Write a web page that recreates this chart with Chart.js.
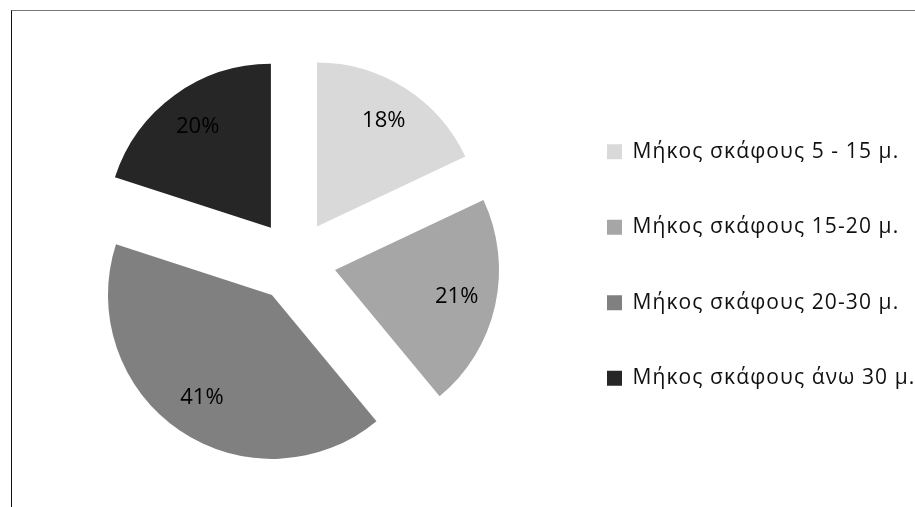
<!DOCTYPE html>
<html lang="el">
<head>
<meta charset="utf-8">
<title>Μήκος σκάφους</title>
<script src="https://cdn.jsdelivr.net/npm/chart.js@4.4.1/dist/chart.umd.min.js"></script>
<style>
  html, body { margin: 0; padding: 0; background: #fff; }
  .frame {
    position: absolute; left: 11px; top: 10px;
    width: 904px; height: 497px; box-sizing: border-box;
    border-left: 1px solid #111; border-top: 1px solid #777;
    overflow: hidden;
  }
  .frame .wrap { position: relative; width: 903px; height: 496px; }
</style>
</head>
<body>
<div class="frame"><div class="wrap"><canvas id="boatChart"></canvas></div></div>

<script>
// --- data ---
const categories = [
  'Μήκος σκάφους 5 - 15 μ.',
  'Μήκος σκάφους 15-20 μ.',
  'Μήκος σκάφους 20-30 μ.',
  'Μήκος σκάφους άνω 30 μ.'
];
const shares = [18, 21, 41, 20];
const sliceColors = ['#d9d9d9', '#a6a6a6', '#808080', '#262626'];

const FONT = "'Open Sans', 'Noto Sans', sans-serif";
const EXPLODE = 41;        // px each slice is pulled out along its bisector
const LEGEND_WIDTH = 362.5;

// --- exploded slices: draw each arc shifted out, keeping its radius ---
const explodePlugin = {
  id: 'explode',
  beforeDatasetDraw(chart, args) {
    const ctx = chart.ctx;
    args.meta.data.forEach(arc => {
      const mid = (arc.startAngle + arc.endAngle) / 2;
      ctx.save();
      ctx.translate(Math.cos(mid) * EXPLODE, Math.sin(mid) * EXPLODE);
      arc.draw(ctx);
      ctx.restore();
    });
    return false;
  },
  afterDatasetsDraw(chart) {
    const ctx = chart.ctx;
    const meta = chart.getDatasetMeta(0);
    const total = shares.reduce((s, v) => s + v, 0);
    ctx.save();
    ctx.font = `22px ${FONT}`;
    ctx.fillStyle = '#000';
    ctx.textAlign = 'center';
    ctx.textBaseline = 'middle';
    meta.data.forEach((arc, i) => {
      const mid = (arc.startAngle + arc.endAngle) / 2;
      const dist = EXPLODE + arc.outerRadius * 0.76;
      const pct = Math.round(shares[i] / total * 100) + '%';
      ctx.fillText(pct, arc.x + Math.cos(mid) * dist, arc.y + Math.sin(mid) * dist);
    });
    ctx.restore();
  }
};

// --- fixed legend width, a little lower and with wider letter spacing ---
const legendTweakPlugin = {
  id: 'legendTweak',
  afterInit(chart) {
    const legend = chart.legend;
    if (!legend) return;
    const fit = legend.fit;
    const draw = legend.draw;
    legend.fit = function () {
      fit.call(this);
      this.width = LEGEND_WIDTH;
    };
    legend.draw = function () {
      const ctx = this.ctx;
      ctx.save();
      ctx.translate(0, 4);
      ctx.letterSpacing = '1.1px';
      draw.call(this);
      ctx.restore();
    };
  }
};

new Chart(document.getElementById('boatChart'), {
  type: 'pie',
  data: {
    labels: categories,
    datasets: [{
      data: shares,
      backgroundColor: sliceColors,
      borderWidth: 0,
      hoverOffset: 0
    }]
  },
  options: {
    responsive: true,
    maintainAspectRatio: false,
    animation: false,
    radius: 164,
    layout: { padding: { top: 24, bottom: 20, left: 25.5, right: 0 } },
    plugins: {
      tooltip: { enabled: false },
      legend: {
        position: 'right',
        align: 'center',
        labels: {
          boxWidth: 15,
          boxHeight: 15,
          padding: 54.5,
          color: '#111',
          font: { family: FONT, size: 21, lineHeight: 1.2 }
        }
      }
    }
  },
  plugins: [explodePlugin, legendTweakPlugin]
});
</script>
</body>
</html>
